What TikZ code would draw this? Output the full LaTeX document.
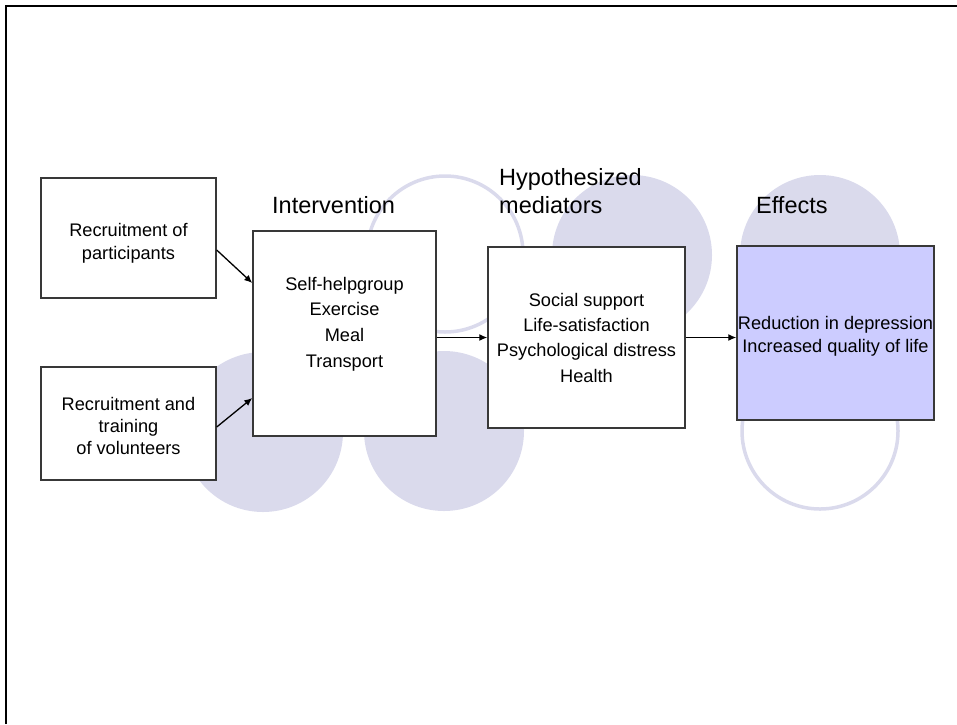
\documentclass[tikz,border=0pt]{standalone}
\usepackage{fontspec}
\setmainfont{Liberation Sans}
\usetikzlibrary{arrows.meta,calc}
\definecolor{lav}{RGB}{218,218,236}
\definecolor{effbox}{RGB}{204,204,255}
\begin{document}
\begin{tikzpicture}[x=1pt,y=-1pt,
  boxnode/.style={draw=black!78, line width=1.4pt, fill=white, inner sep=0pt, rectangle},
  discfill/.style={fill=lav, draw=none},
  discring/.style={draw=lav, line width=3.5pt},
  conn/.style={line width=1.3pt, -{Latex[length=8pt,width=7pt]}},
  headtext/.style={font=\fontsize{23.5}{28}\selectfont, anchor=base west, inner sep=0pt},
  bodytext/.style={anchor=base, inner sep=0pt},
  ]
\useasboundingbox (0,0) rectangle (957,724);
% frame
\draw[line width=2.5pt] (6,724) -- (6,6) -- (957,6);
% background circles
\fill[discfill] (263,432) circle[radius=80pt];
\fill[discfill] (444,431) circle[radius=80pt];
\fill[discfill] (632,255) circle[radius=80pt];
\fill[discfill] (820,255) circle[radius=80pt];
\draw[discring] (445,254) circle[radius=78pt];
\draw[discring] (820,431) circle[radius=78pt];
% boxes
\node[boxnode, minimum width=175pt, minimum height=120pt] (A) at (128.5,238) {};
\node[boxnode, minimum width=175pt, minimum height=113pt] (B) at (128.5,423.5) {};
\node[boxnode, minimum width=183pt, minimum height=205pt] (I) at (344.5,333.5) {};
\node[boxnode, minimum width=197pt, minimum height=181pt] (M) at (586.5,337.5) {};
\node[boxnode, fill=effbox, minimum width=197pt, minimum height=174pt] (E) at (835.5,333) {};
% headings
\node[headtext] (hI) at (272,213) {Intervention};
\node[headtext] (hM1) at (499,185) {Hypothesized};
\node[headtext] (hM2) at (499,213) {mediators};
\node[headtext] (hE) at (756,213) {Effects};
% box texts
\node[bodytext] (tA) at (128.5,236) {\fontsize{18.2}{23}\selectfont\begin{tabular}[t]{@{}c@{}}Recruitment of\\participants\end{tabular}};
\node[bodytext] (tB) at (128.5,410) {\fontsize{18.2}{22}\selectfont\begin{tabular}[t]{@{}c@{}}Recruitment and\\training\\of volunteers\end{tabular}};
\node[bodytext] (tI) at (344.5,290) {\fontsize{18.2}{25.7}\selectfont\begin{tabular}[t]{@{}c@{}}Self-helpgroup\\Exercise\\Meal\\Transport\end{tabular}};
\node[bodytext] (tM) at (586.5,306) {\fontsize{18.2}{25.4}\selectfont\begin{tabular}[t]{@{}c@{}}Social support\\Life-satisfaction\\Psychological distress\\Health\end{tabular}};
\node[bodytext] (tE) at (835.5,329) {\fontsize{18.2}{23.5}\selectfont\begin{tabular}[t]{@{}c@{}}Reduction in depression\\Increased quality of life\end{tabular}};
% connectors
\draw[conn] ([yshift=-12pt]A.east) -- ([yshift=50.5pt]I.west);
\draw[conn] ([yshift=-3.5pt]B.east) -- ([yshift=-64.5pt]I.west);
\draw[conn] (I.east |- M.west) -- (M.west);
\draw[conn] (M.east) -- (E.west |- M.east);
\end{tikzpicture}
\end{document}
